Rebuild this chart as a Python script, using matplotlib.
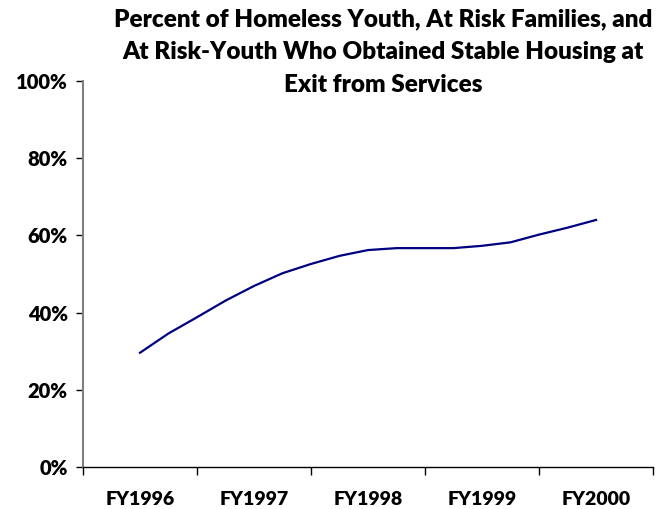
import matplotlib.pyplot as plt
from matplotlib.ticker import FixedLocator, NullFormatter

# quarterly readings, FY1996 Q1 .. FY2000 Q1 (percent)
quarter_values = [29.6, 34.6, 38.8, 43.1, 46.9, 50.2, 52.6, 54.7, 56.2,
                  56.7, 56.7, 56.7, 57.3, 58.2, 60.2, 62.0, 64.0]
year_labels = ["FY1996", "FY1997", "FY1998", "FY1999", "FY2000"]
y_ticks = [0, 20, 40, 60, 80, 100]

title = ("Percent of Homeless Youth, At Risk Families, and\n"
         "At Risk-Youth Who Obtained Stable Housing at\n"
         "Exit from Services")

plt.rcParams["font.family"] = ["Lato", "DejaVu Sans"]
plt.rcParams["font.weight"] = "bold"

fig = plt.figure(figsize=(6.62, 5.09), dpi=100)
ax = fig.add_axes([0.1254, 0.0825, 0.8610, 0.7584])

x = list(range(len(quarter_values)))
ax.plot(x, quarter_values, color="#000080", linewidth=1.6)

ax.set_xlim(-2, 18)
ax.set_ylim(0, 100)

# year labels sit on every 4th quarter, tick marks between them
label_pos = [i * 4 for i in range(len(year_labels))]
ax.xaxis.set_major_locator(FixedLocator([p - 2 for p in label_pos] + [18]))
ax.xaxis.set_major_formatter(NullFormatter())
ax.set_xticks(label_pos, minor=True)
ax.set_xticklabels(year_labels, minor=True, fontsize=14, fontweight="heavy")
ax.tick_params(axis="x", which="major", direction="out", length=6, width=1, color="black")
ax.tick_params(axis="x", which="minor", length=0, pad=17)

ax.set_yticks(y_ticks)
ax.set_yticklabels([f"{v}%" for v in y_ticks], fontsize=14.5, fontweight="heavy")
ax.tick_params(axis="y", direction="out", length=5, width=1, color="black", pad=6)

ax.spines["top"].set_visible(False)
ax.spines["right"].set_visible(False)
ax.spines["left"].set_color("#808080")
ax.spines["left"].set_linewidth(1.5)
ax.spines["bottom"].set_color("black")
ax.spines["bottom"].set_linewidth(1)

fig.text(0.579, 0.984, title, ha="center", va="top", fontsize=17.5,
         fontweight="heavy", linespacing=1.6)

fig.savefig("out.png", dpi=100)
